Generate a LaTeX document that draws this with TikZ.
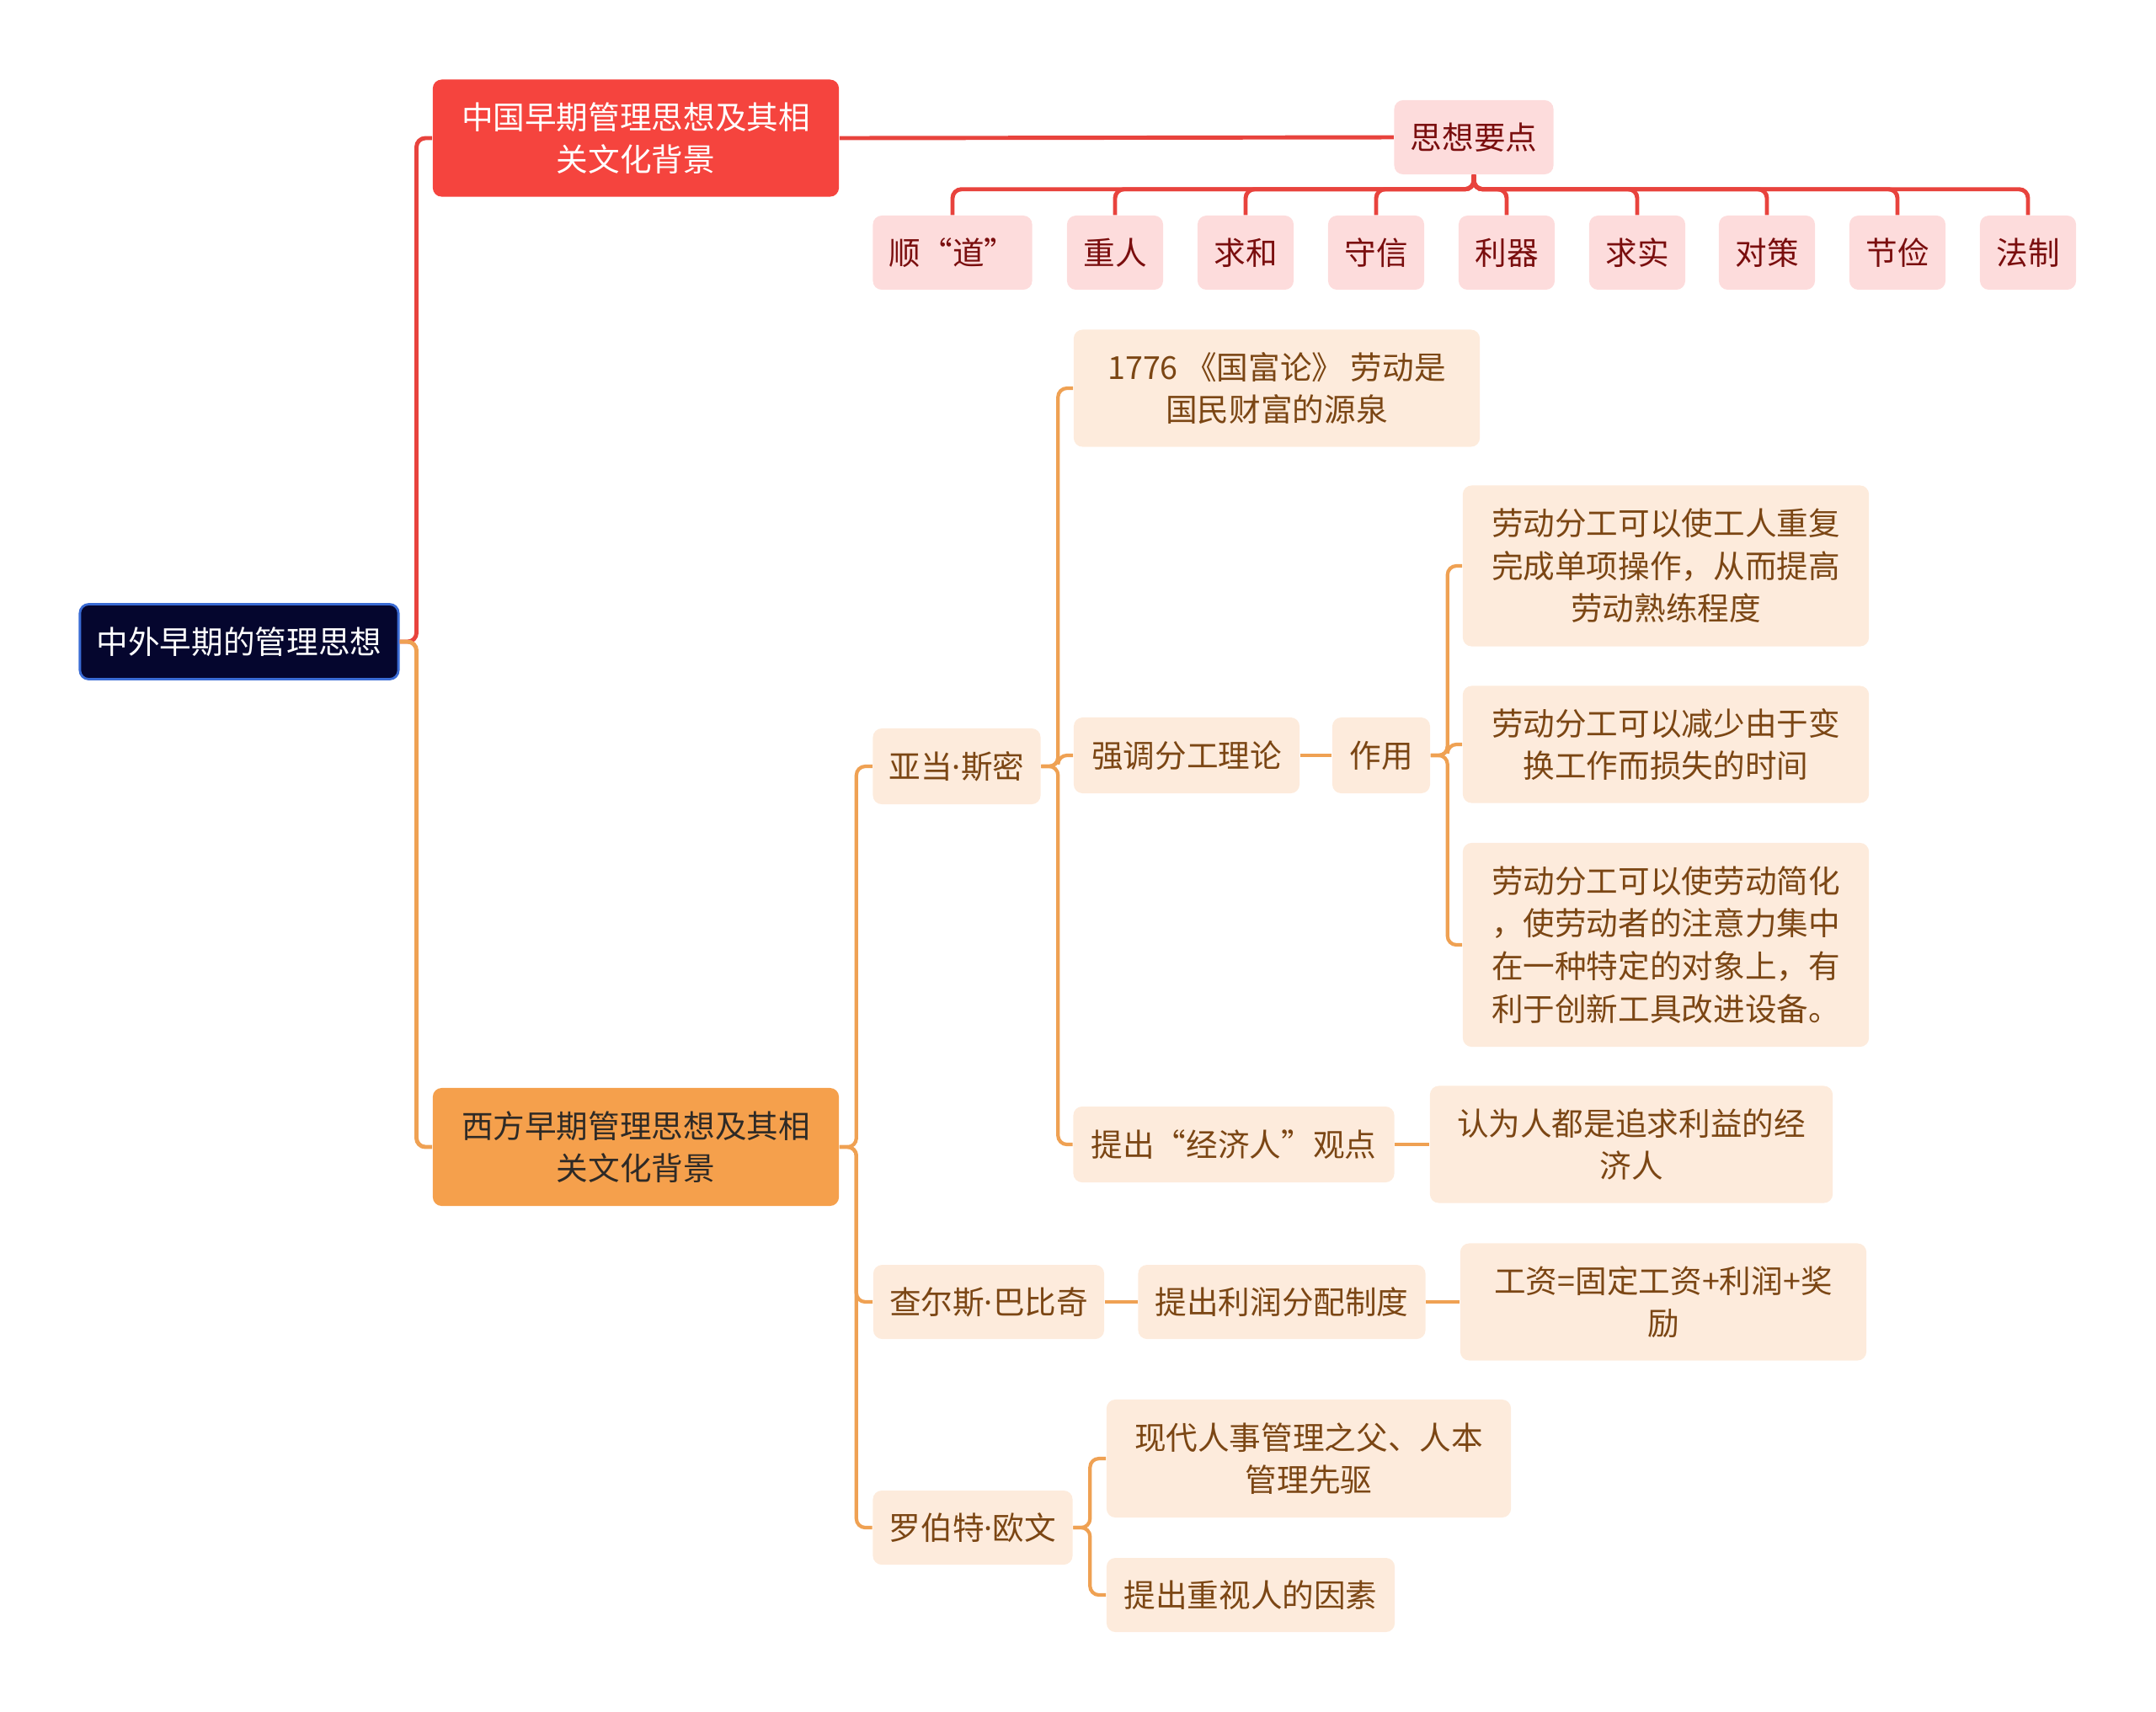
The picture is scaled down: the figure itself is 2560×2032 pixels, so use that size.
\documentclass[tikz,border=0pt]{standalone}
\usepackage{fontspec}
\setmainfont{Noto Sans CJK SC}
\newfontfamily\dotfont{Noto Sans}
\newcommand{\mdot}{{\dotfont ·}}
\definecolor{maproot}{HTML}{05062E}
\definecolor{maprootline}{HTML}{3A6BD4}
\definecolor{mapred}{HTML}{F5443E}
\definecolor{maporange}{HTML}{F5A04C}
\definecolor{mapdark}{HTML}{2E2A26}
\definecolor{mappink}{HTML}{FDDCDC}
\definecolor{mappinktext}{HTML}{7A0E0E}
\definecolor{mapcream}{HTML}{FDEBDC}
\definecolor{mapbrown}{HTML}{7B4614}
\definecolor{mapredline}{HTML}{E8433D}
\definecolor{maporangeline}{HTML}{EFA153}
\tikzset{
  box/.style={rounded corners=3pt, inner sep=0pt, align=center,
    font=\fontsize{10.7pt}{14.4pt}\selectfont},
  sz/.style 2 args={minimum width=#1cm, minimum height=#2cm},
  rootbox/.style={box, fill=maproot, draw=maprootline, line width=0.8pt, text=white},
  redbox/.style={box, fill=mapred, text=white},
  orangebox/.style={box, fill=maporange, text=mapdark},
  pinkbox/.style={box, fill=mappink, text=mappinktext},
  creambox/.style={box, fill=mapcream, text=mapbrown},
  redline/.style={mapredline, line width=1.4pt, rounded corners=3pt},
  orangeline/.style={maporangeline, line width=1.4pt, rounded corners=3pt},
  subline/.style={maporangeline, line width=1.2pt, rounded corners=3pt}
}
\begin{document}
\begin{tikzpicture}[x=0.01cm,y=-0.01cm]
    \useasboundingbox (0,0) rectangle (2560,2032);
    % root and the two main branches
    \node[rootbox, sz={3.78}{0.89}] (root) at (284,762) {中外早期的管理思想};
    \node[redbox, sz={4.82}{1.39}] (china) at (755,164) {中国早期管理思想及其相\\关文化背景};
    \node[orangebox, sz={4.82}{1.40}] (west) at (755,1362) {西方早期管理思想及其相\\关文化背景};
    \draw[redline] (root.east) -- ++(20,0) |- (china.west);
    \draw[orangeline] (root.east) -- ++(20,0) |- (west.west);
    % chinese branch
    \node[pinkbox, sz={1.89}{0.88}] (yaodian) at (1750,163) {思想要点};
    \draw[redline] (china.east) -- (yaodian.west);
    \foreach \x/\w/\t [count=\i] in {1131/1.89/顺“道”, 1324/1.14/重人, 1479/1.14/求和,
        1634/1.14/守信, 1789/1.14/利器, 1944/1.14/求实, 2098/1.14/对策,
        2253/1.14/节俭, 2408/1.14/法制} {
      \node[pinkbox, sz={\w}{0.88}] (pt\i) at (\x,300) {\t};
      \draw[redline] (yaodian.south) -- ++(0,17) -| (pt\i.north);
    }
    % western branch
    \node[creambox, sz={1.99}{0.90}] (smith) at (1136,910) {亚当\mdot 斯密};
    \node[creambox, sz={2.74}{0.88}] (babbage) at (1174,1546) {查尔斯\mdot 巴比奇};
    \node[creambox, sz={2.37}{0.88}] (owen) at (1155,1814) {罗伯特\mdot 欧文};
    \foreach \n in {smith,babbage,owen} {\draw[subline] (west.east) -- ++(20,0) |- (\n.west);}
    \node[creambox, sz={4.82}{1.39}] (wealth) at (1516,461) {1776 《国富论》 劳动是\\国民财富的源泉};
    \node[creambox, sz={2.68}{0.90}] (division) at (1409,897) {强调分工理论};
    \node[creambox, sz={3.81}{0.90}] (econman) at (1465,1359) {提出“经济人”观点};
    \foreach \n in {wealth,division,econman} {\draw[subline] (smith.east) -- ++(20,0) |- (\n.west);}
    \node[creambox, sz={1.16}{0.90}] (effect) at (1640,897) {作用};
    \draw[subline] (division.east) -- (effect.west);
    \node[creambox, sz={4.82}{1.91}] (effa) at (1978,672) {劳动分工可以使工人重复\\完成单项操作，从而提高\\劳动熟练程度};
    \node[creambox, sz={4.82}{1.39}] (effb) at (1978,884) {劳动分工可以减少由于变\\换工作而损失的时间};
    \node[creambox, sz={4.82}{2.42}] (effc) at (1978,1122) {劳动分工可以使劳动简化\\，使劳动者的注意力集中\\在一种特定的对象上，有\\利于创新工具改进设备。};
    \foreach \n in {effa,effb,effc} {\draw[subline] (effect.east) -- ++(20,0) |- (\n.west);}
    \node[creambox, sz={4.78}{1.39}] (selfint) at (1937,1359) {认为人都是追求利益的经\\济人};
    \draw[subline] (econman.east) -- (selfint.west);
    \node[creambox, sz={3.41}{0.88}] (profit) at (1522,1546) {提出利润分配制度};
    \node[creambox, sz={4.82}{1.39}] (wage) at (1975,1546) {工资=固定工资+利润+奖\\励};
    \draw[subline] (babbage.east) -- (profit.west);
    \draw[subline] (profit.east) -- (wage.west);
    \node[creambox, sz={4.80}{1.40}] (father) at (1554,1732) {现代人事管理之父、人本\\管理先驱};
    \node[creambox, sz={3.42}{0.88}] (human) at (1485,1894) {提出重视人的因素};
    \foreach \n in {father,human} {\draw[subline] (owen.east) -- ++(20,0) |- (\n.west);}
  \end{tikzpicture}
\end{document}
